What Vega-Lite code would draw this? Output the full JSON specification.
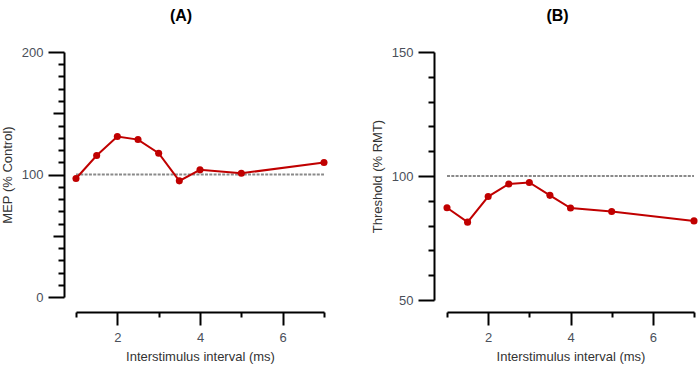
{
  "$schema": "https://vega.github.io/schema/vega-lite/v6.json",
  "padding": {"left": 1, "top": 8, "right": 5, "bottom": 5},
  "background": "white",
  "datasets": {
    "mep": [
      {"isi": 1, "value": 96.7},
      {"isi": 1.5, "value": 115.5},
      {"isi": 2, "value": 131},
      {"isi": 2.5, "value": 128.5},
      {"isi": 3, "value": 117.4},
      {"isi": 3.5, "value": 94.8},
      {"isi": 4, "value": 103.8},
      {"isi": 5, "value": 101},
      {"isi": 7, "value": 109.8}
    ],
    "thr": [
      {"isi": 1, "value": 87.2},
      {"isi": 1.5, "value": 81.4},
      {"isi": 2, "value": 91.7},
      {"isi": 2.5, "value": 96.8},
      {"isi": 3, "value": 97.4},
      {"isi": 3.5, "value": 92.2},
      {"isi": 4, "value": 87.1},
      {"isi": 5, "value": 85.7},
      {"isi": 7, "value": 81.9}
    ],
    "ref": [
      {"isi": 1, "value": 100},
      {"isi": 7, "value": 100}
    ]
  },
  "spacing": 43,
  "hconcat": [
    {
      "width": 248,
      "height": 245,
      "title": {"text": "(A)", "dx": -19, "offset": 22},
      "encoding": {
        "x": {
          "field": "isi", "type": "quantitative",
          "scale": {"domain": [1, 7], "nice": false, "zero": false},
          "axis": {
            "title": "Interstimulus interval (ms)",
            "values": [1, 2, 3, 4, 5, 6, 7],
            "offset": 15,
            "tickSize": {"condition": {"test": "datum.value % 2 === 0", "value": 13}, "value": 5},
            "labelExpr": "datum.value % 2 === 0 ? datum.label : ''",
            "labelPadding": 6,
            "titlePadding": 6
          }
        },
        "y": {
          "field": "value", "type": "quantitative",
          "scale": {"domain": [0, 200], "nice": false},
          "axis": {
            "title": "MEP (% Control)",
            "values": [0, 10, 20, 30, 40, 50, 60, 70, 80, 90, 100, 110, 120, 130, 140, 150, 160, 170, 180, 190, 200],
            "offset": 12,
            "tickSize": {"condition": [{"test": "datum.value % 100 === 0", "value": 16}, {"test": "datum.value % 50 === 0", "value": 11}], "value": 6},
            "labelExpr": "datum.value % 100 === 0 ? datum.label : ''",
            "labelPadding": 5,
            "titlePadding": 7
          }
        }
      },
      "layer": [
        {
          "data": {"name": "ref"},
          "mark": {"type": "line", "color": "#8a8a8a", "strokeDash": [3, 1.3], "strokeWidth": 2}
        },
        {
          "data": {"name": "mep"},
          "mark": {"type": "line", "color": "#c00000", "strokeWidth": 2}
        },
        {
          "data": {"name": "mep"},
          "mark": {"type": "point", "filled": true, "color": "#c00000", "size": 50, "opacity": 1}
        }
      ]
    },
    {
      "width": 247,
      "height": 248,
      "title": {"text": "(B)", "dx": -13, "offset": 22},
      "encoding": {
        "x": {
          "field": "isi", "type": "quantitative",
          "scale": {"domain": [1, 7], "nice": false, "zero": false},
          "axis": {
            "title": "Interstimulus interval (ms)",
            "values": [1, 2, 3, 4, 5, 6, 7],
            "offset": 12,
            "tickSize": {"condition": {"test": "datum.value % 2 === 0", "value": 13}, "value": 5},
            "labelExpr": "datum.value % 2 === 0 ? datum.label : ''",
            "labelPadding": 6,
            "titlePadding": 6
          }
        },
        "y": {
          "field": "value", "type": "quantitative",
          "scale": {"domain": [50, 150], "nice": false, "zero": false},
          "axis": {
            "title": "Threshold (% RMT)",
            "values": [50, 60, 70, 80, 90, 100, 110, 120, 130, 140, 150],
            "offset": 13,
            "tickSize": {"condition": {"test": "datum.value % 50 === 0", "value": 16}, "value": 6},
            "labelExpr": "datum.value % 50 === 0 ? datum.label : ''",
            "labelPadding": 5,
            "titlePadding": 7
          }
        }
      },
      "layer": [
        {
          "data": {"name": "ref"},
          "mark": {"type": "line", "color": "#8a8a8a", "strokeDash": [3, 1.3], "strokeWidth": 2}
        },
        {
          "data": {"name": "thr"},
          "mark": {"type": "line", "color": "#c00000", "strokeWidth": 2}
        },
        {
          "data": {"name": "thr"},
          "mark": {"type": "point", "filled": true, "color": "#c00000", "size": 50, "opacity": 1}
        }
      ]
    }
  ],
  "config": {
    "view": {"stroke": null},
    "font": "Liberation Sans",
    "axis": {
      "grid": false,
      "domainColor": "black",
      "domainWidth": 2,
      "tickColor": "black",
      "tickWidth": 2,
      "labelColor": "#4a4f5a",
      "labelFontSize": 13,
      "titleFontSize": 13,
      "titleFontWeight": "normal",
      "titleColor": "#333333"
    },
    "title": {"fontSize": 16, "fontWeight": "bold", "font": "Liberation Sans", "color": "black"}
  }
}
